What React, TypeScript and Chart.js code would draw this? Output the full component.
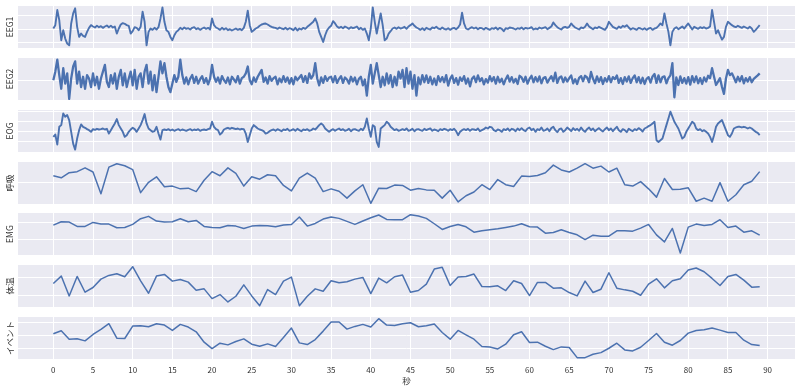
import React, { useEffect, useRef } from 'react';
import { Chart, registerables } from 'chart.js';

Chart.register(...registerables);

// ---------- data ----------
const PANEL_NAMES = ['EEG1', 'EEG2', 'EOG', '呼吸', 'EMG', '体温', 'イベント'];
const X_TICKS = [0, 5, 10, 15, 20, 25, 30, 35, 40, 45, 50, 55, 60, 65, 70, 75, 80, 85, 90];
const X_TITLE = '秒';
const EEG_SAMPLE_SEC = 0.25; // fast channels: 4 samples per second
const SLOW_SAMPLE_SEC = 1; // slow channels: 1 sample per second

// one row = 5 seconds (20 samples)
const eeg1 = [
  0, 10, 55, 25, -35, -5, -30, -45, -50, 15, 45, 60, 5, -25, -15, -22, -25, -10, 2, 10,
  6, 3, 8, 4, 7, 2, 6, 9, 4, 8, 3, 6, -15, 0, 12, 16, 14, 10, 8, -15,
  -8, 4, 2, -5, 5, 50, 20, -50, -10, 0, -4, 2, -3, 4, 30, 63, 20, -5, -10, -25,
  -35, -20, -10, -5, 2, -2, 3, -1, 1, -3, 2, 4, -2, 1, -4, 0, 3, -1, 2, -3,
  30, 10, 3, 0, -4, 2, -3, 1, -5, -2, -6, -3, 0, -4, -1, -5, 2, 20, 53, 10,
  -10, -5, 0, 3, 8, 12, 14, 15, 12, 8, 5, 3, 2, -1, 3, 0, -2, 2, -3, 1,
  -1, -5, 2, -6, 0, -3, 2, -1, 5, 10, 15, 20, 30, 15, -10, -25, -40, -20, -5, 3,
  8, 22, 15, 6, 2, 5, 1, 6, 3, -1, 4, 1, 3, 6, -2, 2, -4, 0, -15, -35,
  0, 63, 20, -15, 15, 45, 10, -35, -30, -15, -8, 0, 3, -1, 4, 0, 2, 5, -1, 6,
  10, 15, 8, 3, 0, -4, 1, -5, 2, -1, -3, 3, 1, 5, 0, -2, 3, -1, -3, 1,
  -4, 0, 2, -2, 3, 12, 47, 15, 0, -3, 1, 4, 0, 3, -2, 2, 1, -3, 2, -1,
  -4, 1, -1, 3, -3, 2, -1, -8, 1, -1, 3, 2, 0, -3, 1, -1, 3, -2, 2, 0,
  1, 4, -3, 0, -2, 3, 0, 2, 4, -2, 2, 6, 18, 10, 4, 0, -3, 3, 5, 2,
  5, 15, 8, 3, 0, -3, 3, 1, 5, 15, 6, 2, -2, 3, 1, 5, 2, -1, -4, 4,
  20, 12, 5, 2, -1, 6, 2, 8, 5, 10, 3, -3, 1, -1, -4, 2, 0, -3, 1, -4,
  0, 2, -4, 0, 2, 8, 15, 10, 45, 15, -10, -50, -10, 0, 4, -2, 2, 6, 0, 8,
  15, 6, -3, 5, 2, -1, 4, 1, 4, 0, 2, 6, 55, 20, -15, -5, -20, -33, -25, 5,
  20, 15, 10, 6, 4, 8, 5, 2, 6, 3, 0, 5, 0, -10, -4, 3, 10,
];

const eeg2 = [
  0, 25, 60, 15, -25, 35, -10, 20, -55, 5, 40, 55, -10, 25, -20, 10, -25, 15, 5, -20,
  20, -15, 10, -25, 5, 25, 45, -5, -20, 15, -10, 20, -25, 10, 30, -15, 20, -20, 5, 25,
  -15, 30, -25, 10, 20, -20, 25, 45, -10, 25, -30, 15, -35, 10, 55, 20, 50, 10, -20, -35,
  -10, 15, -5, 10, 60, 15, -10, 8, -12, 5, 15, -8, 10, -10, 3, 12, -8, 6, -12, 4,
  45, 10, -5, 8, -10, 12, 0, -8, 8, -12, 10, 2, -6, 12, -10, 6, 10, 20, 40, 0,
  -12, 8, -5, 10, 20, 30, -5, 8, -10, 12, -2, 6, 10, -12, 5, -6, 12, -5, 8, -10,
  6, -12, 10, 0, 8, 15, -5, 12, -8, 20, 5, 15, 50, 5, -15, 8, -8, 12, -2, 8,
  10, -6, 12, -8, 4, 12, -8, 8, 2, -10, 10, -4, 8, -12, 4, 10, -15, 2, -45, 10,
  45, -10, 20, 50, 15, -20, 10, -15, 20, -10, 15, -20, 10, -15, 25, 5, 30, -20, 35, -10,
  25, -25, 15, -45, 8, -12, 15, -6, 14, -8, 10, -12, 5, -14, 12, -4, 9, -6, 15, -16,
  4, 14, -8, 6, -13, 8, -2, 12, -10, 5, -18, 4, 11, -6, 14, -3, 6, -12, 3, -7,
  12, -3, 9, -10, 10, -6, 4, -12, 3, 14, -4, 9, -7, 4, -11, 13, 8, -5, 10, -10,
  4, 13, -6, 9, -4, 11, -9, 6, 9, -7, 3, 12, -3, 22, -8, 7, 11, -6, 8, -4,
  6, 14, -9, 3, -11, 7, 12, -3, 13, 8, -6, 24, 4, -9, 11, -5, 9, -11, 6, -4,
  12, -6, 9, 3, 14, -8, 6, -11, 9, -4, 11, -8, 6, 14, -6, 9, -9, 7, -11, 4,
  9, -7, 11, 18, -8, 14, -6, 9, 11, -9, 6, 14, 50, -50, 8, -14, 11, -8, 6, -10,
  9, -13, 12, -6, 11, -9, 6, -11, 8, -4, 13, 6, 35, 10, -14, -4, 6, -20, -40, 5,
  30, 15, 20, 8, -6, 10, -3, 12, -9, 6, -4, 9, -6, 4, 9, 14, 20,
];

const eog = [
  -20, -13, -43, 10, 15, 50, 40, 45, 30, -5, -40, -58, -25, 0, 17, 10, 7, 3, 0, -5,
  3, 1, 4, 2, 3, 5, 2, 4, -10, 0, 10, 20, 33, 15, 5, -5, -20, -15, -5, 2,
  7, 3, -5, 5, 15, 30, 48, 20, 5, 0, -5, -3, 10, -10, -28, 0, 2, 0, 3, -1,
  2, -2, 1, 3, -1, 2, 0, -2, 1, 3, -1, 2, 0, 3, -2, 1, 2, 0, 3, 5,
  25, 10, 3, 0, -13, -8, 2, 5, 7, 4, 7, 5, 3, 5, 2, 4, 3, -10, -35, -15,
  5, 15, 10, 5, 2, 0, -3, -10, -8, -3, 0, 2, -2, 3, 0, -3, 2, 0, 4, -2,
  0, 3, -2, 4, 0, -3, 2, 0, 3, -2, 0, 5, 2, 8, 15, 20, 15, 5, 0, -5,
  0, 3, -2, 2, 5, 0, 3, -2, 0, 4, -3, 2, 3, 0, -2, 4, 0, 10, 35, 5,
  -20, 15, 10, -35, -50, 5, 10, 15, 25, 20, 10, 5, 0, 3, -2, 0, 3, 0, 5, -2,
  0, 4, -3, 2, 3, 0, -2, 4, 0, 3, 5, -2, 2, 0, -3, 3, 0, 4, 2, -2,
  3, 0, 4, -3, -15, -5, 0, 3, 0, 4, -2, 3, 2, 0, 5, -3, 0, 3, 8, 5,
  10, 8, 0, -3, 2, 0, -5, 3, 0, 5, -2, 4, 2, -3, 5, 0, 6, 0, -3, 5,
  8, 0, 4, -5, 3, 0, 8, -2, 0, 5, -3, 6, 10, 0, -6, 3, 5, -5, 0, 8,
  3, -3, 6, 0, 4, -2, 8, 0, -5, 3, 8, 0, 5, -3, 2, 6, 0, -4, 3, 8,
  0, 5, -3, 4, 10, 0, -5, 3, 0, -6, 4, 0, -3, 3, 0, 6, 2, -4, 5, 8,
  12, 15, 20, 25, -30, -35, -30, -25, -5, 15, 35, 55, 40, 25, 15, 5, -10, -25, -20, -5,
  5, 15, 25, 20, 5, 0, 3, -3, 0, -5, -10, -20, -35, -15, 10, 20, 25, 30, 15, 0,
  -15, -20, -10, 5, 8, 10, 10, 8, 10, 8, 5, 8, 5, 0, -5, -8, -15,
];

const respiration = [
  85, 79, 94, 97, 108, 96, 33, 110, 120, 114, 103, 36, 66, 82, 53, 55, 47, 49, 39, 72,
  97, 85, 108, 92, 55, 82, 75, 88, 85, 57, 41, 78, 93, 78, 39, 47, 40, 20, 41, 59,
  5, 49, 48, 58, 57, 43, 48, 44, 43, 20, 43, 9, 27, 38, 59, 45, 74, 59, 54, 84,
  83, 86, 94, 116, 102, 96, 107, 120, 107, 113, 96, 107, 59, 55, 68, 47, 23, 77, 45, 46,
  50, 11, 20, 11, 65, 11, 30, 59, 69, 97,
];

const emg = [
  94, 104, 103, 90, 90, 102, 97, 97, 86, 87, 96, 113, 120, 106, 103, 104, 113, 104, 108, 90,
  87, 86, 93, 91, 84, 91, 93, 92, 89, 94, 96, 118, 91, 99, 112, 118, 114, 105, 96, 106,
  116, 124, 111, 110, 110, 125, 121, 114, 98, 81, 90, 96, 89, 73, 77, 80, 83, 87, 91, 98,
  89, 88, 70, 72, 80, 72, 65, 51, 64, 61, 61, 77, 77, 76, 85, 96, 65, 44, 84, 11,
  88, 97, 93, 96, 110, 87, 91, 73, 77, 64,
];

const temperature = [
  75, 97, 38, 96, 49, 63, 88, 99, 104, 95, 125, 83, 46, 97, 102, 82, 87, 79, 55, 59,
  30, 42, 20, 37, 71, 38, 9, 57, 42, 82, 94, 9, 37, 59, 52, 83, 77, 80, 88, 93,
  45, 91, 77, 95, 100, 49, 54, 73, 118, 123, 69, 94, 96, 103, 66, 65, 68, 54, 83, 75,
  39, 78, 78, 61, 62, 48, 38, 82, 48, 58, 107, 61, 56, 52, 40, 73, 89, 62, 83, 89,
  115, 121, 110, 90, 69, 96, 102, 85, 64, 65,
];

const events = [
  80, 89, 64, 65, 59, 78, 93, 110, 67, 66, 103, 104, 101, 110, 106, 90, 108, 100, 86, 55,
  36, 52, 47, 57, 65, 49, 43, 50, 42, 69, 97, 53, 48, 63, 88, 115, 115, 94, 102, 108,
  100, 125, 106, 105, 110, 113, 101, 104, 109, 84, 64, 90, 77, 64, 42, 41, 35, 49, 77, 86,
  54, 55, 43, 33, 41, 39, 9, 9, 19, 24, 37, 52, 32, 29, 40, 60, 81, 55, 46, 60,
  82, 90, 92, 97, 91, 84, 84, 61, 48, 45,
];

const SERIES = [eeg1, eeg2, eog, respiration, emg, temperature, events];
const SAMPLE_SEC = [EEG_SAMPLE_SEC, EEG_SAMPLE_SEC, EEG_SAMPLE_SEC, SLOW_SAMPLE_SEC, SLOW_SAMPLE_SEC, SLOW_SAMPLE_SEC, SLOW_SAMPLE_SEC];

// y-axis limits and grid positions per panel (no tick labels shown)
const Y_LIMITS = [[-58, 67], [-58, 65], [-65, 60], [3, 125], [5, 130], [5, 130], [5, 130]];
const Y_GRID = [[-43, -2, 39], [0], [-35, -4, 27, 57], [65], [52, 102], [38, 93], [35, 75, 115]];

// ---------- layout / style ----------
const X_MIN = -4.45;
const X_MAX = 93.45;
const PANEL_TOPS = [6, 58, 110, 162, 213, 265, 317];
const PANEL_H = 42;
const LAST_AXIS_H = 33;
const FONT = "'Noto Sans CJK JP', 'DejaVu Sans', sans-serif";
const TEXT_COLOR = '#333333';
const LINE_COLOR = '#4C72B0';
const BG_COLOR = '#EAEAF2';
const LINE_W = [1.9, 2.3, 1.9, 1.5, 1.5, 1.5, 1.5];

const panelBg = {
  id: 'panelBg',
  beforeDraw(chart: any) {
    const { ctx, chartArea: a } = chart;
    ctx.save();
    ctx.fillStyle = BG_COLOR;
    ctx.fillRect(a.left, a.top, a.right - a.left, a.bottom - a.top);
    ctx.restore();
  },
};

export default function App() {
  const refs = useRef<(HTMLCanvasElement | null)[]>([]);

  useEffect(() => {
    const charts: Chart[] = [];
    PANEL_NAMES.forEach((name, i) => {
      const canvas = refs.current[i];
      if (!canvas) return;
      const isLast = i === PANEL_NAMES.length - 1;
      const values = SERIES[i];
      const dt = SAMPLE_SEC[i];
      const points = values.map((v, k) => ({ x: k * dt, y: v }));
      const [yMin, yMax] = Y_LIMITS[i];
      const grid = Y_GRID[i];
      const chart = new Chart(canvas, {
        type: 'line',
        data: {
          datasets: [
            {
              data: points,
              borderColor: LINE_COLOR,
              borderWidth: LINE_W[i],
              borderJoinStyle: 'round',
              pointRadius: 0,
              tension: 0,
              fill: false,
            },
          ],
        },
        options: {
          responsive: false,
          animation: false,
          events: [],
          layout: { padding: { left: 0, right: 5, top: 0, bottom: 0 } },
          plugins: { legend: { display: false }, tooltip: { enabled: false } },
          scales: {
            x: {
              type: 'linear',
              min: X_MIN,
              max: X_MAX,
              afterBuildTicks: (s: any) => {
                s.ticks = X_TICKS.map((v) => ({ value: v }));
              },
              afterFit: (s: any) => {
                s.height = isLast ? LAST_AXIS_H : 0;
              },
              grid: { color: '#ffffff', lineWidth: 1, drawTicks: false },
              border: { display: false },
              ticks: {
                display: isLast,
                autoSkip: false,
                maxRotation: 0,
                padding: 6,
                color: TEXT_COLOR,
                font: { family: FONT, size: 8 },
              },
              title: {
                display: isLast,
                text: X_TITLE,
                color: TEXT_COLOR,
                font: { family: FONT, size: 8.5 },
                padding: { top: 0, bottom: 6 },
              },
            },
            y: {
              type: 'linear',
              min: yMin,
              max: yMax,
              afterBuildTicks: (s: any) => {
                s.ticks = grid.filter((v) => v > yMin && v < yMax).map((v) => ({ value: v }));
              },
              afterFit: (s: any) => {
                s.width = 18;
              },
              grid: { color: '#ffffff', lineWidth: 1, drawTicks: false },
              border: { display: false },
              ticks: { display: false },
              title: {
                display: true,
                text: name,
                color: TEXT_COLOR,
                font: { family: FONT, size: 8.5 },
                padding: { top: 5, bottom: 0 },
              },
            },
          },
        },
        plugins: [panelBg],
      } as any);
      charts.push(chart);
    });
    return () => charts.forEach((c) => c.destroy());
  }, []);

  return (
    <div style={{ position: 'absolute', left: 0, top: 0, width: 800, height: 392, background: '#ffffff' }}>
      {PANEL_NAMES.map((name, i) => {
        const isLast = i === PANEL_NAMES.length - 1;
        const h = isLast ? PANEL_H + LAST_AXIS_H : PANEL_H;
        return (
          <canvas
            key={name}
            ref={(el) => {
              refs.current[i] = el;
            }}
            width={800}
            height={h}
            style={{ position: 'absolute', left: 0, top: PANEL_TOPS[i], width: 800, height: h }}
          />
        );
      })}
    </div>
  );
}
